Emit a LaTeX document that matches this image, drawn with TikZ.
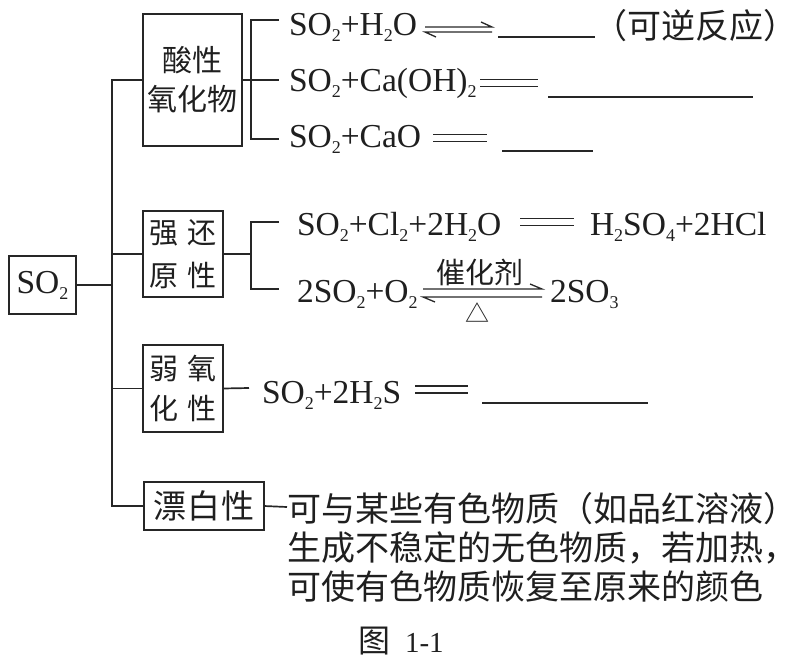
\documentclass[tikz,border=0pt]{standalone}
\usepackage{fontspec}
\setmainfont{Liberation Serif}
\newfontfamily\cjk{Noto Sans CJK SC}
\newcommand\sbs[1]{\raisebox{-6.5pt}{\fontsize{18}{18}\selectfont #1}}
\begin{document}
\begin{tikzpicture}[x=1pt,y=-1pt,
  every node/.style={inner sep=0pt, outer sep=0pt, text=black!88},
  ln/.style={draw=black!85, line width=1.7pt},
  thin/.style={draw=black!85, line width=1.3pt},
  box/.style={draw=black!85, line width=1.7pt, align=center},
  eq/.style={anchor=base west, font=\fontsize{33.5}{40}\selectfont},
  cjkt/.style={anchor=west, font=\cjk\fontsize{34}{39}\selectfont}]
\useasboundingbox (0,0) rectangle (798,667);

% main boxes
\node[box, minimum width=67pt, minimum height=58pt, text height=23pt, text depth=7pt,
      font=\fontsize{33.5}{40}\selectfont] (so2) at (42.5,285) {SO\sbs{2}};
\node[box, minimum width=99pt, minimum height=132pt, font=\cjk\fontsize{30}{39}\selectfont]
  (b1) at (192.5,80) {酸性\\氧化物};
\node[box, minimum width=80pt, minimum height=86pt, font=\cjk\fontsize{29}{43}\selectfont]
  (b2) at (183,254) {强\hspace{9pt}还\\原\hspace{9pt}性};
\node[box, minimum width=80pt, minimum height=87pt, font=\cjk\fontsize{29}{40}\selectfont]
  (b3) at (183,388.5) {弱\hspace{9pt}氧\\化\hspace{9pt}性};
\node[box, minimum width=120pt, minimum height=48pt, font=\cjk\fontsize{33}{39}\selectfont]
  (b4) at (204,506) {漂\hspace{1.5pt}白\hspace{1.5pt}性};

% trunk
\coordinate (t) at (112,285);
\draw[ln] (so2.east) -- (t);
\draw[ln] (b1.west) -| (t);
\draw[ln] (b4.west) -| (t);
\draw[ln] (b2.west) -- (b2.west -| t);
\draw[ln] (b3.west) -- (b3.west -| t);

% bracket 1
\coordinate (a1) at (279,20);
\coordinate (a2) at (279,80);
\coordinate (a3) at (279,139);
\coordinate (k1) at (251,80);
\draw[ln] (a1) -- (a1 -| k1) -- (a3 -| k1) -- (a3);
\draw[ln] (b1.east) -- (a2);

% bracket 2
\coordinate (c1) at (279,222);
\coordinate (c2) at (279,289);
\coordinate (k2) at (251,254);
\draw[ln] (c1) -- (c1 -| k2) -- (c2 -| k2) -- (c2);
\draw[ln] (b2.east) -- (k2);

% box3 link
\coordinate (d1) at (249,388);
\draw[ln] (b3.east) -- (d1);

% box4 link
\coordinate (f1) at (287,507);
\draw[ln] (b4.east) -- (f1);

% equation 1
\node[eq] (e1) at (289,35) {SO\sbs{2}+H\sbs{2}O};
\draw[thin] (425,27) -- (492,27) -- (481,22);
\draw[thin] (492,32) -- (425,32) -- (436,37);
\draw[thin] (498,37) -- (595,37);
\node[cjkt] (e1n) at (593,26) {（可逆反应）};

% equation 2
\node[eq] (e2) at (289,91) {SO\sbs{2}+Ca(OH)\sbs{2}};
\draw[thin] (480,79.5) -- (538,79.5);
\draw[thin] (480,86.5) -- (538,86.5);
\draw[thin] (548,97) -- (753,97);

% equation 3
\node[eq] (e3) at (289,147) {SO\sbs{2}+CaO};
\draw[thin] (433,134.5) -- (487,134.5);
\draw[thin] (433,141.5) -- (487,141.5);
\draw[thin] (502,151) -- (593,151);

% equation 4
\node[eq] (e4) at (297,235) {SO\sbs{2}+Cl\sbs{2}+2H\sbs{2}O};
\draw[thin] (520,218.5) -- (574,218.5);
\draw[thin] (520,225.5) -- (574,225.5);
\node[eq] (e4r) at (590,235) {H\sbs{2}SO\sbs{4}+2HCl};

% equation 5
\node[eq] (e5) at (297,302) {2SO\sbs{2}+O\sbs{2}};
\draw[thin] (423,289) -- (542,289) -- (530,284);
\draw[thin] (542,297) -- (423,297) -- (435,302);
\node[anchor=center, font=\cjk\fontsize{29}{30}\selectfont] (cat) at (480,272) {催化剂};
\node[anchor=center, font=\cjk\fontsize{24}{24}\selectfont] (heat) at (477,313) {△};
\node[eq] (e5r) at (550,302) {2SO\sbs{3}};

% equation 6
\node[eq] (e6) at (262,403) {SO\sbs{2}+2H\sbs{2}S};
\draw[thin] (415,386) -- (468,386);
\draw[thin] (415,393) -- (468,393);
\draw[thin] (482,403) -- (648,403);

% bleaching text
\node[cjkt] (w1) at (287,509) {可与某些有色物质（如品红溶液）};
\node[cjkt] (w2) at (287,548) {生成不稳定的无色物质，若加热，};
\node[cjkt] (w3) at (287,587) {可使有色物质恢复至原来的颜色};

% caption
\node[anchor=west, font=\cjk\fontsize{32}{32}\selectfont] (cap) at (358,641) {图};
\node[anchor=base west, font=\fontsize{29}{30}\selectfont] (capn) at (405,652) {1-1};
\end{tikzpicture}
\end{document}
